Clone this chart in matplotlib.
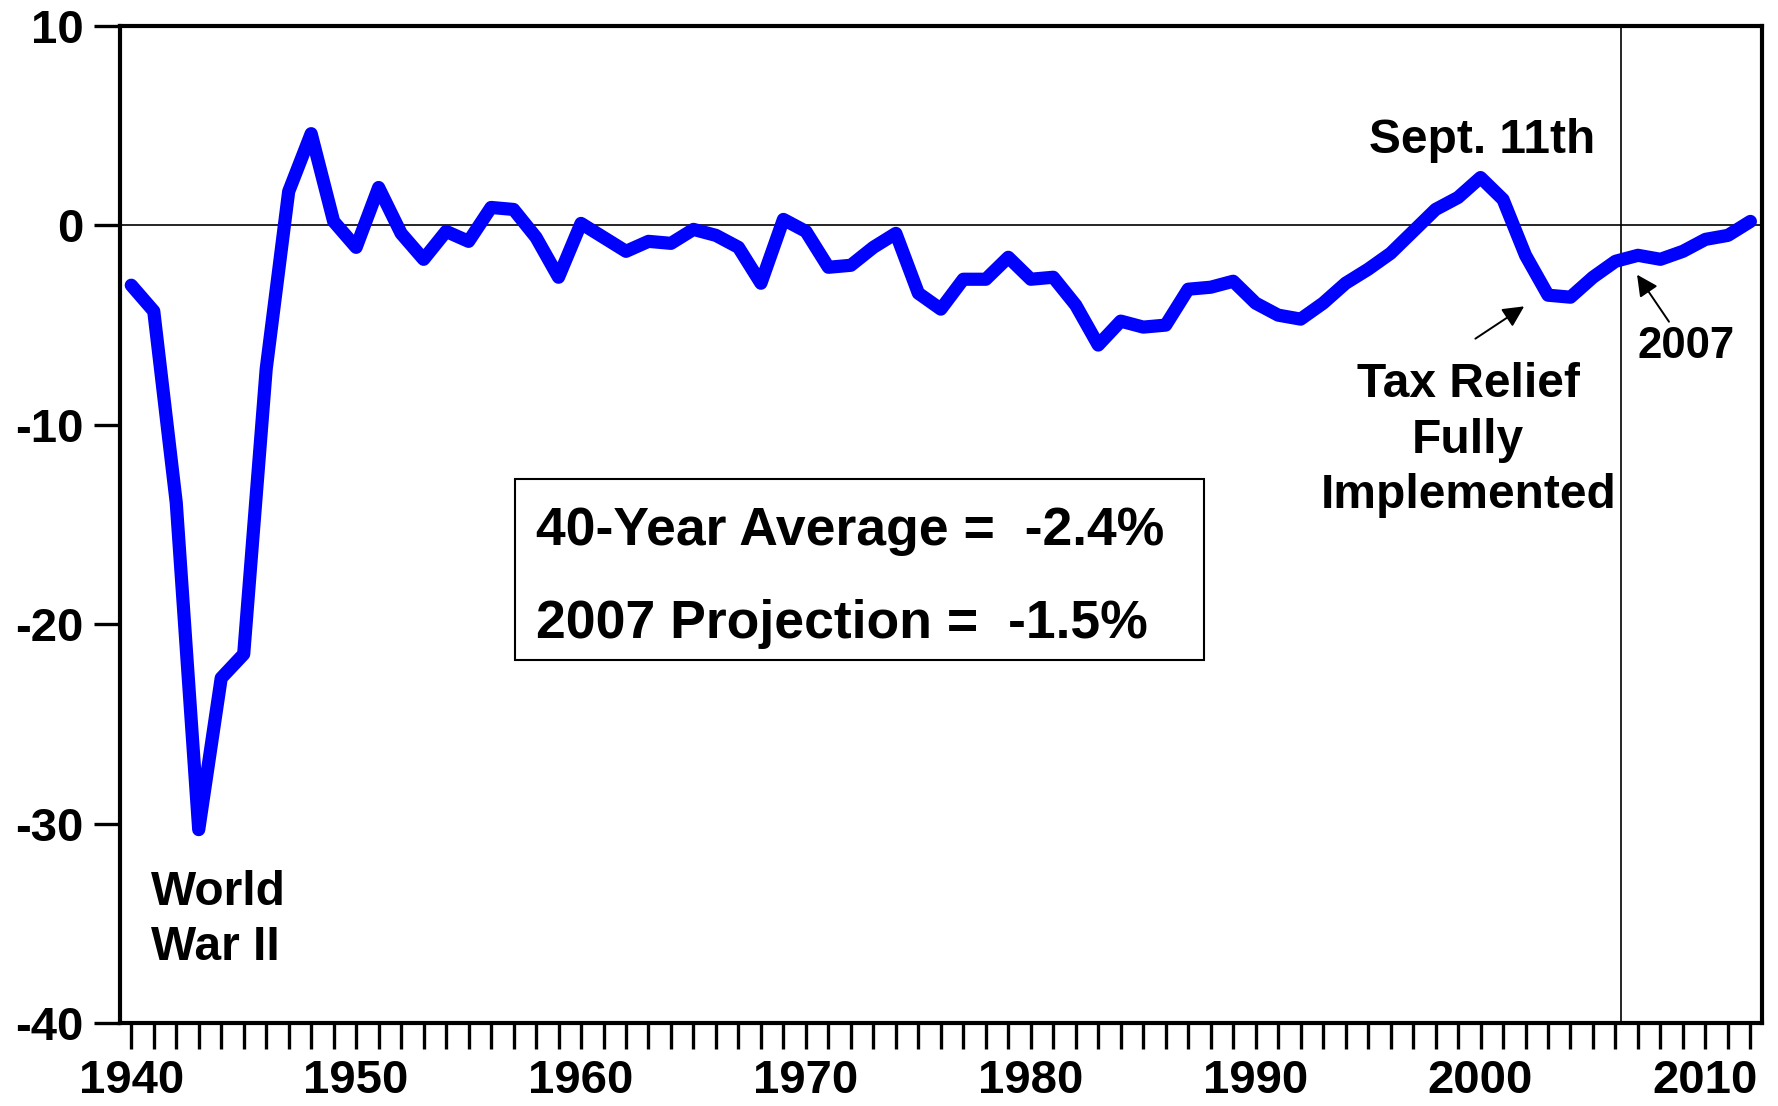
import matplotlib
matplotlib.use("Agg")
import matplotlib.pyplot as plt
from matplotlib.patches import Rectangle

plt.rcParams['axes.unicode_minus'] = False
plt.rcParams['font.family'] = ['Liberation Sans', 'DejaVu Sans']

# Surplus (+) / deficit (-) as a percent of GDP, fiscal years 1940-2012
years = list(range(1940, 2013))
deficit = [
    -3.0, -4.3, -13.9, -30.3, -22.7, -21.5, -7.2, 1.7, 4.6, 0.2,      # 1940s
    -1.1, 1.9, -0.4, -1.7, -0.3, -0.8, 0.9, 0.8, -0.6, -2.6,          # 1950s
    0.1, -0.6, -1.3, -0.8, -0.9, -0.2, -0.5, -1.1, -2.9, 0.3,         # 1960s
    -0.3, -2.1, -2.0, -1.1, -0.4, -3.4, -4.2, -2.7, -2.7, -1.6,       # 1970s
    -2.7, -2.6, -4.0, -6.0, -4.8, -5.1, -5.0, -3.2, -3.1, -2.8,       # 1980s
    -3.9, -4.5, -4.7, -3.9, -2.9, -2.2, -1.4, -0.3, 0.8, 1.4,         # 1990s
    2.4, 1.3, -1.5, -3.5, -3.6, -2.6, -1.8, -1.5, -1.7, -1.3,         # 2000s
    -0.7, -0.5, 0.2,                                                  # 2010-2012
]
x_ticklabels = [1940, 1950, 1960, 1970, 1980, 1990, 2000, 2010]
y_ticks = [10, 0, -10, -20, -30, -40]
projection_start = 2006.23
avg_40yr = -2.4
proj_2007 = -1.5

fig = plt.figure(figsize=(17.78, 11.06), dpi=100)
ax = fig.add_axes([0.0675, 0.075, 0.9233, 0.9015])

ax.plot(years, deficit, color='#0000ff', lw=9.5, solid_joinstyle='round',
        solid_capstyle='round', zorder=3)
ax.axhline(0, color='black', lw=1.2, zorder=2)
ax.axvline(projection_start, color='black', lw=1.2, zorder=2)

ax.set_xlim(1939.5, 2012.5)
ax.set_ylim(-40, 10)

tick_font = dict(weight='bold', size=34)
ax.set_xticks(years)
ax.set_xticklabels([str(y) if y in x_ticklabels else '' for y in years],
                   fontdict=tick_font)
ax.set_yticks(y_ticks)
ax.set_yticklabels([str(v) for v in y_ticks], fontdict=tick_font)
ax.tick_params(axis='both', direction='out', length=19, width=2.4, pad=7)

for s in ax.spines.values():
    s.set_linewidth(3)

# annotations (va='baseline' on multi-line text pins the last line)
bold = dict(weight='bold', color='black')
ax.text(1940.88, -36.84, "World\nWar II", fontsize=34.5, ha='left',
        va='baseline', linespacing=1.3, **bold)
ax.text(2000.05, 3.63, "Sept. 11th", fontsize=34.5, ha='center',
        va='baseline', **bold)
ax.text(1999.45, -14.18, "Tax Relief\nFully\nImplemented", fontsize=34.5,
        ha='center', va='baseline', multialignment='center',
        linespacing=1.3, **bold)
ax.text(2009.15, -6.64, "2007", fontsize=31.5, ha='center', va='baseline',
        **bold)

arrow = dict(arrowstyle='-|>', color='black', lw=1.4, mutation_scale=32,
             shrinkA=0, shrinkB=0)
ax.annotate("", xy=(2001.94, -4.06), xytext=(1999.77, -5.68),
            arrowprops=arrow)
ax.annotate("", xy=(2006.96, -2.47), xytext=(2008.38, -4.83),
            arrowprops=arrow)

# summary box
ax.add_patch(Rectangle((1957.08, -21.80), 30.61, 9.08, fill=False,
                       edgecolor='black', lw=1.5, zorder=4))
ax.text(1958.0, -16.03, f"40-Year Average =  {avg_40yr}%", fontsize=38.5,
        ha='left', va='baseline', zorder=5, **bold)
ax.text(1958.0, -20.69, f"2007 Projection =  {proj_2007}%", fontsize=38.5,
        ha='left', va='baseline', zorder=5, **bold)

fig.savefig("out.png", dpi=100)
